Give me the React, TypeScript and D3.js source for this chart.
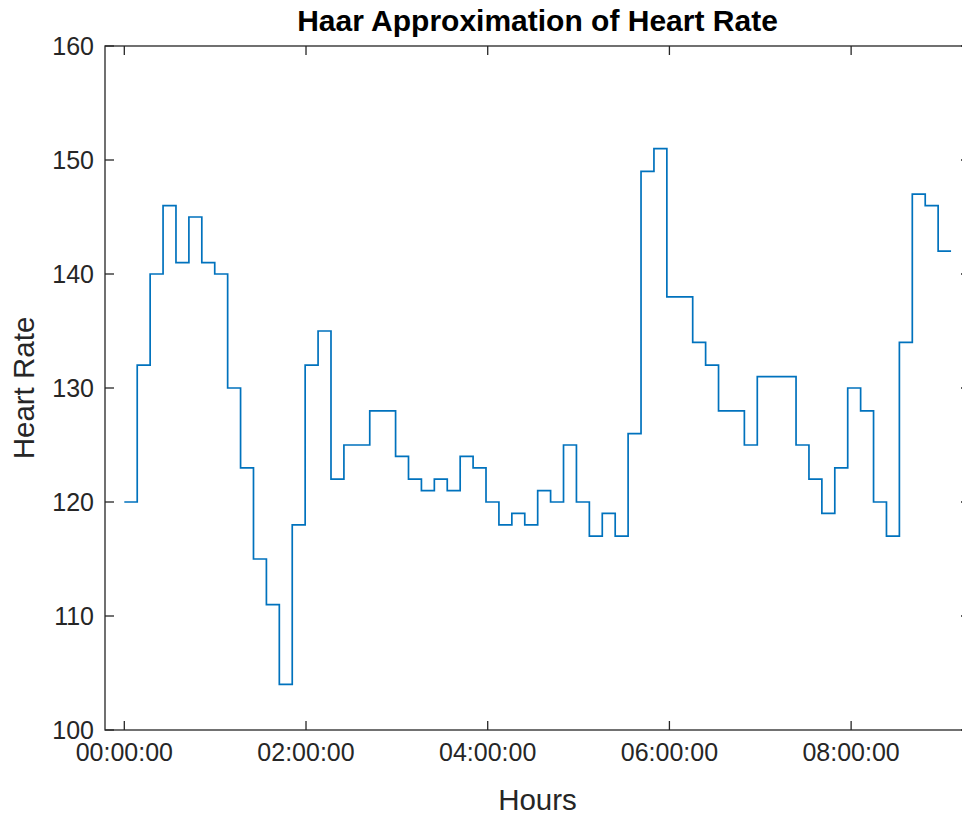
import React from "react";
import * as d3 from "d3";

const TITLE = "Haar Approximation of Heart Rate";
const X_LABEL = "Hours";
const Y_LABEL = "Heart Rate";

// Haar approximation levels (bpm), one per equal-width segment
const heartRate: number[] = [
  120, 132, 140, 146, 141, 145, 141, 140, 130, 123,
  115, 111, 104, 118, 132, 135, 122, 125, 125, 128,
  128, 124, 122, 121, 122, 121, 124, 123, 120, 118,
  119, 118, 121, 120, 125, 120, 117, 119, 117, 126,
  149, 151, 138, 138, 134, 132, 128, 128, 125, 131,
  131, 131, 125, 122, 119, 123, 130, 128, 120, 117,
  134, 147, 146, 142,
];
const recordEndHours = 9.1; // total duration of the recording
const xTickHours: number[] = [0, 2, 4, 6, 8];
const yTicks: number[] = [100, 110, 120, 130, 140, 150, 160];
const xDomain: [number, number] = [-0.2125, 9.3085];
const yDomain: [number, number] = [100, 160];

const W = 962;
const H = 815;
const M = { left: 105, right: 970, top: 46, bottom: 730 };
const FONT = "'Liberation Sans', Arial, Helvetica, sans-serif";
const AX = "#262626";

function fmtHMS(h: number): string {
  const total = Math.round(h * 3600);
  const hh = Math.floor(total / 3600);
  const mm = Math.floor((total % 3600) / 60);
  const ss = total % 60;
  const p = (n: number) => String(n).padStart(2, "0");
  return `${p(hh)}:${p(mm)}:${p(ss)}`;
}

export default function App() {
  const x = d3.scaleLinear().domain(xDomain).range([M.left, M.right]);
  const y = d3.scaleLinear().domain(yDomain).range([M.bottom, M.top]);
  const seg = recordEndHours / heartRate.length;
  const pts: [number, number][] = heartRate.map((v, i) => [i * seg, v]);
  pts.push([heartRate.length * seg, heartRate[heartRate.length - 1]]);
  const line = d3
    .line<[number, number]>()
    .x((d) => x(d[0]))
    .y((d) => y(d[1]))
    .curve(d3.curveStepAfter);
  const tickLen = 9;

  return (
    <svg
      width={W}
      height={H}
      style={{ position: "absolute", left: 0, top: 0, background: "#fff" }}
      fontFamily={FONT}
    >
      <rect x={0} y={0} width={W} height={H} fill="#fff" />
      <defs>
        <clipPath id="plotclip">
          <rect x={M.left} y={M.top} width={M.right - M.left} height={M.bottom - M.top} />
        </clipPath>
      </defs>
      {yTicks.map((t) => (
        <g key={"y" + t}>
          <line x1={M.left} x2={M.left + tickLen} y1={y(t)} y2={y(t)} stroke={AX} strokeWidth={1.3} />
          <line x1={M.right} x2={M.right - tickLen} y1={y(t)} y2={y(t)} stroke={AX} strokeWidth={1.3} />
          <text x={M.left - 11} y={y(t)} dy="0.34em" textAnchor="end" fontSize={25} fill={AX}>
            {t}
          </text>
        </g>
      ))}
      {xTickHours.map((t) => (
        <g key={"x" + t}>
          <line x1={x(t)} x2={x(t)} y1={M.bottom} y2={M.bottom - tickLen} stroke={AX} strokeWidth={1.3} />
          <line x1={x(t)} x2={x(t)} y1={M.top} y2={M.top + tickLen} stroke={AX} strokeWidth={1.3} />
          <text x={x(t)} y={M.bottom + 31} textAnchor="middle" fontSize={25} fill={AX}>
            {fmtHMS(t)}
          </text>
        </g>
      ))}
      <path
        d={line(pts) || ""}
        fill="none"
        stroke="#0072BD"
        strokeWidth={1.7}
        clipPath="url(#plotclip)"
      />
      <rect
        x={M.left}
        y={M.top}
        width={M.right - M.left}
        height={M.bottom - M.top}
        fill="none"
        stroke={AX}
        strokeWidth={1.3}
      />
      <text x={(M.left + M.right) / 2} y={31} textAnchor="middle" fontSize={30} fontWeight="bold" fill="#000">
        {TITLE}
      </text>
      <text x={(M.left + M.right) / 2} y={810} textAnchor="middle" fontSize={29.5} fill={AX}>
        {X_LABEL}
      </text>
      <text
        transform={`translate(34, ${(M.top + M.bottom) / 2}) rotate(-90)`}
        textAnchor="middle"
        fontSize={29.5}
        fill={AX}
      >
        {Y_LABEL}
      </text>
    </svg>
  );
}
